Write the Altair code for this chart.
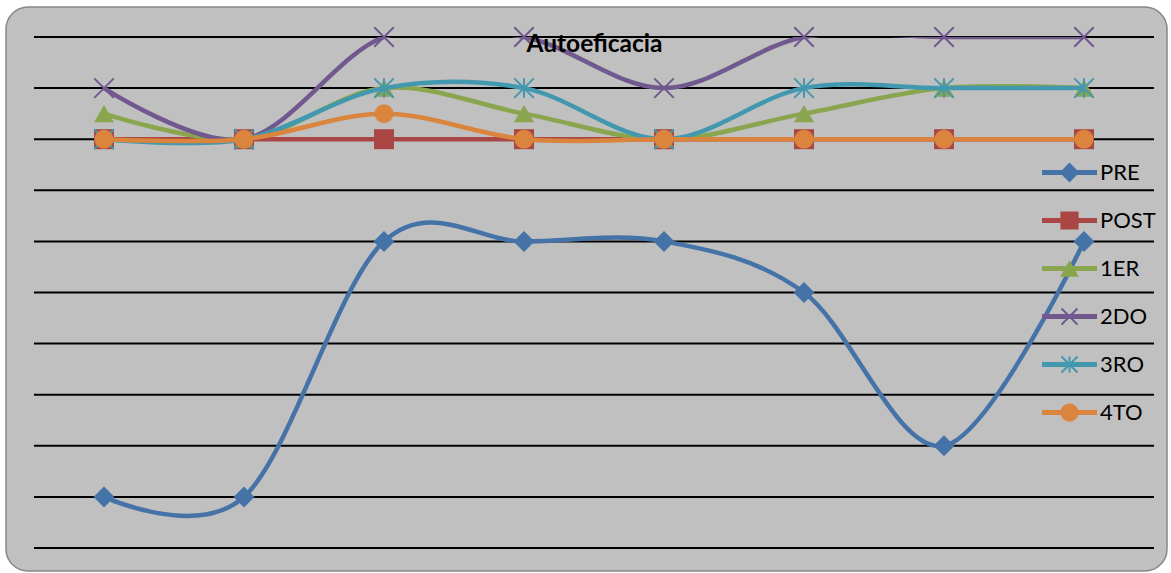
import altair as alt
import pandas as pd
import math

# ---------------- data ----------------
positions = [0, 1, 2, 3, 4, 5, 6, 7]
series_names = ["PRE", "POST", "1ER", "2DO", "3RO", "4TO"]
pre = [1, 1, 6, 6, 6, 5, 2, 6]
post = [8, 8, 8, 8, 8, 8, 8, 8]
er1 = [8.5, 8, 9, 8.5, 8, 8.5, 9, 9]
do2 = [9, 8, 10, 10, 9, 10, 10, 10]
ro3 = [8, 8, 9, 9, 8, 9, 9, 9]
to4 = [8, 8, 8.5, 8, 8, 8, 8, 8]
grid_values = [0, 1, 2, 3, 4, 5, 6, 7, 8, 9, 10]
title_text = "Autoeficacia"

series_values = [pre, post, er1, do2, ro3, to4]
colors = ["#4572A7", "#AA4643", "#89A54E", "#71588F", "#4198AF", "#DB843D"]

rows = []
for name, vals in zip(series_names, series_values):
    for p, v in zip(positions, vals):
        rows.append({"series": name, "pos": p, "value": v})
df = pd.DataFrame(rows)
grid_df = pd.DataFrame({"v": grid_values})
title_df = pd.DataFrame({"t": [title_text]})
frame_df = pd.DataFrame({"k": [0]})

# ---------------- marker shapes ----------------
X_PATH = "M-1,-1L1,1M-1,1L1,-1"
STAR_PATH = "M-1,-1L1,1M-1,1L1,-1M0,-1L0,1"
plot_markers = [
    dict(shape="diamond", size=441, filled=True),
    dict(shape="square", size=400, filled=True),
    dict(shape="triangle-up", size=400, filled=True),
    dict(shape=X_PATH, size=380, filled=False),
    dict(shape=STAR_PATH, size=380, filled=False),
    dict(shape="circle", size=361, filled=True),
]


def poly(pts):
    area = 0
    for i in range(len(pts)):
        x1, y1 = pts[i]
        x2, y2 = pts[(i + 1) % len(pts)]
        area += x1 * y2 - x2 * y1
    if area < 0:
        pts = pts[::-1]
    s = "M%.3f,%.3f" % pts[0]
    for p in pts[1:]:
        s += "L%.3f,%.3f" % p
    return s + "Z"


def seg(x1, y1, x2, y2, w):
    dx, dy = x2 - x1, y2 - y1
    L = math.hypot(dx, dy)
    nx, ny = -dy / L * w, dx / L * w
    return poly([(x1 + nx, y1 + ny), (x2 + nx, y2 + ny), (x2 - nx, y2 - ny), (x1 - nx, y1 - ny)])


def circle(r):
    return "M%.3f,0A%.3f,%.3f 0 1,1 %.3f,0A%.3f,%.3f 0 1,1 %.3f,0Z" % (r, r, r, -r, r, r, r)


LW = 0.09
line_part = poly([(-1, -LW), (1, -LW), (1, LW), (-1, LW)])
m = 0.33
sw = 0.035
legend_paths = [
    line_part + poly([(0, -0.36), (0.36, 0), (0, 0.36), (-0.36, 0)]),
    line_part + poly([(-m, -m), (m, -m), (m, m), (-m, m)]),
    line_part + poly([(0, -0.3), (0.34, 0.3), (-0.34, 0.3)]),
    line_part + seg(-0.29, -0.29, 0.29, 0.29, sw) + seg(-0.29, 0.29, 0.29, -0.29, sw),
    line_part + seg(-0.29, -0.29, 0.29, 0.29, sw) + seg(-0.29, 0.29, 0.29, -0.29, sw)
    + seg(0, -0.29, 0, 0.29, sw),
    line_part + circle(0.33),
]

# ---------------- scales ----------------
xs = alt.Scale(domain=[-0.5, 7.5], nice=False, zero=False)
ys = alt.Scale(domain=[0, 10], nice=False, zero=False)

frame = alt.Chart(frame_df).mark_rect(
    fill="#c0c0c0", stroke="#878787", strokeWidth=1.5, cornerRadius=22
).encode(
    x=alt.value(-28), x2=alt.value(1133), y=alt.value(-30), y2=alt.value(534)
)

grid = alt.Chart(grid_df).mark_rule(color="black", strokeWidth=2).encode(
    y=alt.Y("v:Q", scale=ys, axis=None),
    x=alt.value(0),
    x2=alt.value(1120),
)

layers = [frame, grid]
for name, col, mk in zip(series_names, colors, plot_markers):
    base = alt.Chart(df).transform_filter(alt.datum.series == name).encode(
        x=alt.X("pos:Q", scale=xs, axis=None),
        y=alt.Y("value:Q", scale=ys, axis=None),
    )
    ln = base.mark_line(interpolate="cardinal", tension=0, strokeWidth=4.5,
                        color=col, clip=True)
    if mk["filled"]:
        pt = base.mark_point(shape=mk["shape"], size=mk["size"], filled=True,
                             opacity=1, color=col, strokeWidth=0)
    else:
        pt = base.mark_point(shape=mk["shape"], size=mk["size"], filled=False,
                             opacity=1, color=col, strokeWidth=2)
    layers += [ln, pt]

legend_props = dict(
    orient="none", legendX=1008, legendY=108,
    labelFont="Lato", labelFontSize=22, labelColor="black", labelOffset=3,
    rowPadding=9, symbolSize=3025, symbolStrokeWidth=0, padding=0,
    labelLimit=200,
)
legend_layer = alt.Chart(df).transform_filter("datum.pos > 100").mark_point(
    filled=True, opacity=1, size=3025
).encode(
    x=alt.X("pos:Q", scale=xs, axis=None),
    y=alt.Y("value:Q", scale=ys, axis=None),
    color=alt.Color("series:N", title=None,
                    scale=alt.Scale(domain=series_names, range=colors),
                    legend=alt.Legend(**legend_props)),
    shape=alt.Shape("series:N", title=None,
                    scale=alt.Scale(domain=series_names, range=legend_paths),
                    legend=alt.Legend(**legend_props)),
)
layers.append(legend_layer)

title = alt.Chart(title_df).mark_text(
    font="Lato", fontSize=24.5, fontWeight="bold", color="black",
    align="center", baseline="alphabetic"
).encode(text="t:N", x=alt.value(560.5), y=alt.value(15))
layers.append(title)

chart = alt.layer(*layers).properties(
    width=1120, height=511,
    padding={"left": 34, "top": 37, "right": 17, "bottom": 25},
    autosize=alt.AutoSizeParams(type="none"),
    background="white",
).configure_view(stroke="transparent")

chart.save("out.html", embed_options={"renderer": "svg", "actions": False})
